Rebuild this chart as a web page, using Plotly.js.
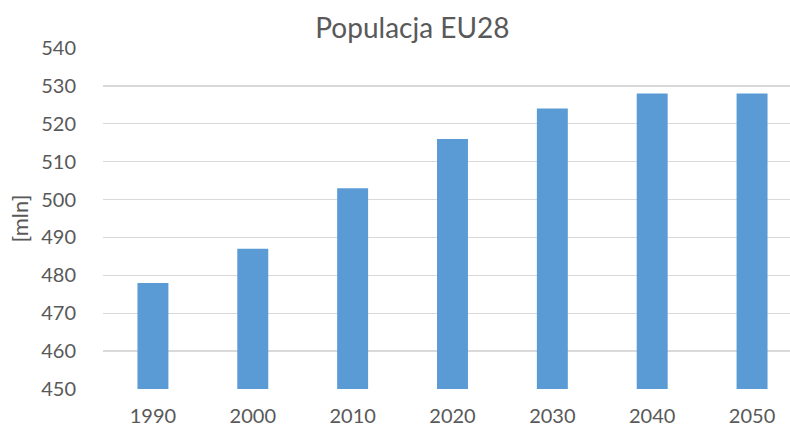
<!DOCTYPE html>
<html>
<head>
<meta charset="utf-8">
<script src="https://cdn.plot.ly/plotly-3.0.1.min.js"></script>
<style>html,body{margin:0;padding:0;background:#fff;}#chart{width:790px;height:427px;}</style>
</head>
<body>
<div id="chart"></div>
<script>
const years = ['1990', '2000', '2010', '2020', '2030', '2040', '2050'];
const population = [478, 487, 503, 516, 524, 528, 528];
const yTicks = [450, 460, 470, 480, 490, 500, 510, 520, 530, 540];

const font = 'Lato, "Open Sans", "Liberation Sans", sans-serif';
Plotly.newPlot('chart', [{
  type: 'bar',
  x: years,
  y: population,
  marker: {color: '#5B9BD5'},
  width: 0.31,
  hoverinfo: 'x+y'
}], {
  width: 790, height: 427,
  margin: {l: 103, r: 0, t: 48, b: 38, pad: 0},
  paper_bgcolor: '#fff', plot_bgcolor: '#fff',
  title: {text: 'Populacja EU28', x: 0.522, xanchor: 'center', y: 0.935, yanchor: 'middle',
          font: {family: font, size: 28, color: '#595959'}},
  xaxis: {type: 'category', range: [-0.5, 6.38], showgrid: false, zeroline: false,
          showline: false, ticks: 'outside', ticklen: 9, tickcolor: 'rgba(0,0,0,0)',
          tickfont: {family: font, size: 20, color: '#595959'}},
  yaxis: {range: [450, 540], tickvals: yTicks, ticktext: yTicks.map(String),
          showgrid: true, gridcolor: '#D9D9D9', gridwidth: 1.3, zeroline: false, showline: false,
          ticks: 'outside', ticklen: 22, tickcolor: 'rgba(0,0,0,0)',
          tickfont: {family: font, size: 20, color: '#595959'},
          title: {text: '[mln]', standoff: 6, font: {family: font, size: 22, color: '#595959'}}},
  showlegend: false
}, {displayModeBar: false, staticPlot: true});
</script>
</body>
</html>
